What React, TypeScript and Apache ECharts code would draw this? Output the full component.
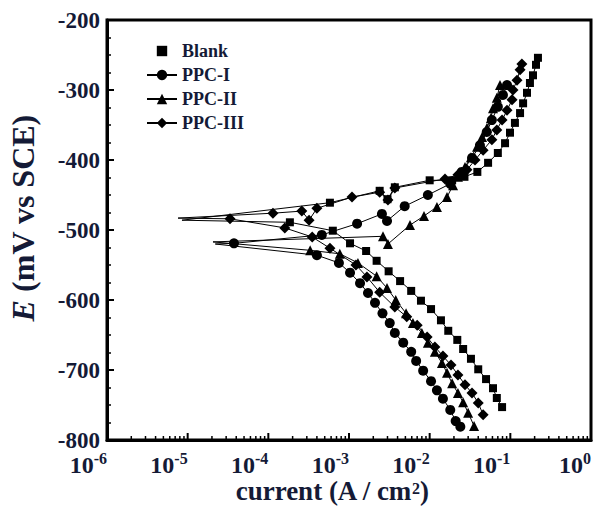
import React, { useEffect, useRef } from "react";
import * as echarts from "echarts";

// ---- data (current in A/cm², potential in mV vs SCE) ----
const seriesNames = ["Blank", "PPC-I", "PPC-II", "PPC-III"];

const blankCurrent = [7.9e-2, 6.8e-2, 6.1e-2, 5.0e-2, 4.0e-2, 3.25e-2, 2.6e-2, 2.2e-2, 1.7e-2, 1.38e-2, 1.04e-2, 7.8e-3, 5.9e-3, 4.3e-3, 3.1e-3, 2.2e-3, 1.63e-3, 1.03e-3, 6.3e-4, 1.85e-4, 8.5e-6, 5.8e-4, 2.4e-3, 3.0e-3, 3.7e-3, 1.0e-2, 1.9e-2, 2.7e-2, 3.9e-2, 5.3e-2, 7.0e-2, 8.6e-2, 9.9e-2, 0.114, 0.132, 0.144, 0.161, 0.175, 0.191, 0.208, 0.22];
const blankPotential = [-753, -740, -726, -713, -699, -684, -670, -657, -644, -629, -613, -601, -587, -573, -559, -544, -530, -519, -501, -489, -486, -461, -444, -456, -439, -429, -429, -424, -417, -404, -390, -376, -361, -347, -333, -319, -304, -290, -279, -264, -254];

const ppc1Current = [2.4e-2, 2.1e-2, 1.8e-2, 1.46e-2, 1.23e-2, 1.04e-2, 8.3e-3, 6.8e-3, 5.9e-3, 4.7e-3, 3.7e-3, 3.2e-3, 2.6e-3, 2.1e-3, 1.72e-3, 1.37e-3, 1.03e-3, 7.5e-4, 4.0e-4, 2.2e-5, 3.75e-5, 4.6e-4, 1.26e-3, 2.56e-3, 2.96e-3, 4.9e-3, 9.5e-3, 1.8e-2, 2.5e-2, 3.35e-2, 4.2e-2, 5.1e-2, 5.9e-2, 7.0e-2, 8.1e-2, 9.1e-2];
const ppc1Potential = [-781, -773, -757, -741, -729, -716, -701, -687, -674, -661, -647, -633, -619, -604, -590, -576, -561, -547, -536, -520, -519, -507, -491, -477, -487, -466, -450, -434, -417, -397, -379, -360, -343, -324, -307, -293];

const ppc2Current = [3.55e-2, 3.0e-2, 2.6e-2, 2.24e-2, 1.9e-2, 1.64e-2, 1.42e-2, 1.16e-2, 9.5e-3, 8.0e-3, 6.2e-3, 5.1e-3, 3.8e-3, 2.96e-3, 2.2e-3, 1.29e-3, 7.7e-4, 3.3e-4, 2.06e-5, 2.64e-3, 3.04e-3, 5.7e-3, 8.5e-3, 1.23e-2, 1.64e-2, 1.95e-2, 2.24e-2, 2.74e-2, 3.25e-2, 3.87e-2, 4.46e-2, 5.14e-2, 5.75e-2, 6.1e-2, 6.8e-2, 7.45e-2];
const ppc2Potential = [-780, -761, -746, -733, -719, -704, -690, -674, -661, -647, -633, -619, -600, -583, -566, -547, -534, -529, -517, -509, -520, -493, -480, -467, -453, -436, -424, -410, -396, -381, -367, -354, -340, -326, -311, -293];

const ppc3Current = [4.6e-2, 4.0e-2, 3.35e-2, 2.74e-2, 2.24e-2, 1.84e-2, 1.46e-2, 1.16e-2, 9.3e-3, 7.0e-3, 5.2e-3, 3.7e-3, 2.4e-3, 1.67e-3, 1.22e-3, 5.8e-4, 3.5e-4, 1.6e-4, 3.35e-5, 7.6e-6, 1.14e-4, 2.6e-4, 3.2e-4, 4.0e-4, 1.09e-3, 2.4e-3, 3.04e-3, 3.7e-3, 1.55e-2, 2.24e-2, 2.9e-2, 3.65e-2, 4.6e-2, 5.9e-2, 6.8e-2, 7.9e-2, 9.1e-2, 0.105, 0.108, 0.121, 0.132, 0.139];
const ppc3Potential = [-764, -747, -733, -721, -707, -693, -680, -667, -653, -636, -624, -610, -589, -567, -550, -526, -510, -497, -484, -483, -476, -473, -486, -469, -453, -446, -457, -440, -427, -421, -414, -400, -386, -371, -357, -343, -329, -314, -300, -286, -271, -263];

// axes
const xDecadeExponents = [-6, -5, -4, -3, -2, -1, 0];
const yTickValues = [-800, -700, -600, -500, -400, -300, -200];

const FONT = "'Liberation Serif', 'Times New Roman', serif";
const TEXT = "#141a36";

const curves = [
  { name: seriesNames[0], current: blankCurrent, potential: blankPotential, symbol: "rect", size: 8 },
  { name: seriesNames[1], current: ppc1Current, potential: ppc1Potential, symbol: "circle", size: 10 },
  { name: seriesNames[2], current: ppc2Current, potential: ppc2Potential, symbol: "triangle", size: 10 },
  { name: seriesNames[3], current: ppc3Current, potential: ppc3Potential, symbol: "diamond", size: 11 },
];

export default function App() {
  const ref = useRef<HTMLDivElement>(null);

  useEffect(() => {
    if (!ref.current) return;
    const chart = echarts.init(ref.current, undefined, { renderer: "svg" });

    const xMin = Math.pow(10, xDecadeExponents[0]);
    const xMax = Math.pow(10, xDecadeExponents[xDecadeExponents.length - 1]);
    const yMin = yTickValues[0];
    const yMax = yTickValues[yTickValues.length - 1];

    // tick positions for the log axis: 1..9 × 10^n
    const xTickData: number[][] = [];
    for (let i = 0; i < xDecadeExponents.length - 1; i++) {
      for (let k = 1; k <= 9; k++) xTickData.push([k * Math.pow(10, xDecadeExponents[i]), yMin]);
    }
    xTickData.push([xMax, yMin]);

    const lineSeries = curves.map((c) => {
      let tip = 0;
      c.current.forEach((v, i) => {
        if (v < c.current[tip]) tip = i;
      });
      return {
        name: c.name,
        type: "line",
        data: c.current.map((v, i) =>
          i === tip ? { value: [v, c.potential[i]], symbol: "none" } : [v, c.potential[i]]
        ),
        symbol: c.symbol,
        symbolSize: c.size,
        showAllSymbol: true,
        lineStyle: { color: "#000", width: 1 },
        itemStyle: { color: "#000" },
        emphasis: { disabled: true },
        z: 3,
      };
    });

    const option: any = {
      animation: false,
      backgroundColor: "#fff",
      grid: {
        left: 107,
        right: 7,
        top: 20,
        bottom: 66,
        show: true,
        borderColor: "#000",
        borderWidth: 3,
        outerBoundsMode: "none",
        containLabel: false,
      },
      legend: {
        orient: "vertical",
        left: 141,
        top: 37,
        itemWidth: 30,
        itemHeight: 13,
        itemGap: 6,
        data: [
          { name: "Blank", lineStyle: { width: 0, opacity: 0 } },
          "PPC-I",
          "PPC-II",
          "PPC-III",
        ],
        textStyle: { fontFamily: FONT, fontWeight: "bold", fontSize: 18, color: TEXT },
      },
      xAxis: {
        type: "log",
        logBase: 10,
        min: xMin,
        max: xMax,
        splitNumber: 6,
        axisLine: { show: true, lineStyle: { color: "#000", width: 3 } },
        axisTick: { show: false },
        splitLine: { show: false },
        minorTick: { show: false },
        axisLabel: {
          showMinLabel: true,
          showMaxLabel: true,
          hideOverlap: false,
          margin: 10,
          align: "right",
          formatter: (v: number) => `{b|10}{s|${Math.round(Math.log10(v))}}`,
          rich: {
            b: { fontFamily: FONT, fontWeight: "bold", fontSize: 24, color: TEXT, lineHeight: 27, verticalAlign: "bottom" },
            s: { fontFamily: FONT, fontWeight: "bold", fontSize: 16, color: TEXT, lineHeight: 16, verticalAlign: "top" },
          },
        },
        name: "{t|current (A / cm}{s|2}{t|)}",
        nameLocation: "middle",
        nameGap: 40,
        nameMoveOverlap: false,
        nameTextStyle: {
          padding: [0, 34, 0, 0],
          rich: {
            t: { fontFamily: FONT, fontWeight: "bold", fontSize: 27, color: TEXT, lineHeight: 24, verticalAlign: "bottom" },
            s: { fontFamily: FONT, fontWeight: "bold", fontSize: 16, color: TEXT, lineHeight: 14, verticalAlign: "top" },
          },
        },
      },
      yAxis: {
        type: "value",
        min: yMin,
        max: yMax,
        interval: 100,
        axisLine: { show: true, lineStyle: { color: "#000", width: 3 } },
        axisTick: { show: true, inside: true, length: 7, lineStyle: { color: "#000", width: 2 } },
        minorTick: { show: true, splitNumber: 4, length: 4, lineStyle: { color: "#000", width: 1.5 } },
        splitLine: { show: false },
        axisLabel: {
          margin: 7,
          fontFamily: FONT,
          fontWeight: "bold",
          fontSize: 23,
          lineHeight: 17,
          color: TEXT,
        },
        name: "{i|E}{t| (mV vs SCE)}",
        nameLocation: "middle",
        nameRotate: 90,
        nameGap: 68,
        nameMoveOverlap: false,
        nameTextStyle: {
          padding: [0, 0, 0, 24],
          rich: {
            i: { fontFamily: FONT, fontWeight: "bold", fontStyle: "italic", fontSize: 32, color: TEXT },
            t: { fontFamily: FONT, fontWeight: "bold", fontSize: 32, color: TEXT },
          },
        },
      },
      series: [
        ...lineSeries,
        {
          name: "xticks",
          type: "custom",
          silent: true,
          clip: false,
          z: 5,
          data: xTickData,
          renderItem: (_p: any, api: any) => {
            const v = api.value(0);
            const pt = api.coord([v, api.value(1)]);
            const lg = Math.log10(v);
            const major = Math.abs(lg - Math.round(lg)) < 1e-6;
            const len = major ? 7 : 4;
            return {
              type: "line",
              shape: { x1: pt[0], y1: pt[1], x2: pt[0], y2: pt[1] - len },
              style: { stroke: "#000", lineWidth: major ? 2 : 1.5 },
            };
          },
        },
      ],
    };

    chart.setOption(option);
    return () => chart.dispose();
  }, []);

  return (
    <div
      ref={ref}
      style={{ position: "fixed", left: 0, top: 0, width: 598, height: 506, background: "#fff" }}
    />
  );
}
